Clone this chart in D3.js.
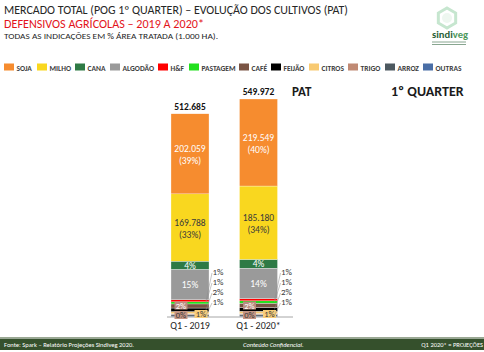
<!DOCTYPE html>
<html>
<head>
<meta charset="utf-8">
<script src="https://cdn.jsdelivr.net/npm/d3@7"></script>
<style>
  body { margin: 0; background: #fff; }
  svg { display: block; font-family: Carlito, "Liberation Sans Narrow", "Open Sans", sans-serif; }
</style>
</head>
<body>
<div id="chart"></div>
<script>
const crops = ["SOJA", "MILHO", "CANA", "ALGODÃO", "H&F", "PASTAGEM", "CAFÉ", "FEIJÃO", "CITROS", "TRIGO", "ARROZ", "OUTRAS"];
const cropColors = ["#f68c2f", "#f9d71f", "#2e7a45", "#9a9a9a", "#ff0000", "#22e01e", "#7a5444", "#000000", "#f8ca72", "#c08a74", "#4d5960", "#4a6ea6"];
const periods = ["Q1 - 2019", "Q1 - 2020*"];
const area2019 = [202059, 169788, 20500, 76900, 5200, 5300, 10300, 8900, 5100, 2000, 4200, 2438];
const area2020 = [219549, 185180, 22000, 77000, 5500, 5800, 11000, 9500, 5600, 2100, 4300, 2443];
const totals = [512685, 549972];

const width = 484, height = 352;
const fmt = v => d3.format(",")(v).replace(/,/g, ".");

const data = periods.map((p, i) => {
  const row = { period: p };
  const vals = i === 0 ? area2019 : area2020;
  crops.forEach((c, j) => row[c] = vals[j]);
  return row;
});

const svg = d3.select("#chart").append("svg")
  .attr("width", width).attr("height", height);

// titulo
svg.append("text").attr("x", 4).attr("y", 14)
  .attr("font-size", 12).attr("fill", "#262626")
  .attr("textLength", 344).attr("lengthAdjust", "spacingAndGlyphs")
  .text("MERCADO TOTAL (POG 1º QUARTER) – EVOLUÇÃO DOS CULTIVOS (PAT)");
svg.append("text").attr("x", 4).attr("y", 27.5)
  .attr("font-size", 12).attr("fill", "#e3141b")
  .attr("textLength", 200).attr("lengthAdjust", "spacingAndGlyphs")
  .text("DEFENSIVOS AGRÍCOLAS  – 2019 A 2020*");
svg.append("text").attr("x", 4).attr("y", 39)
  .attr("font-size", 8).attr("fill", "#262626")
  .attr("textLength", 214).attr("lengthAdjust", "spacingAndGlyphs")
  .text("TODAS AS INDICAÇÕES EM % ÁREA TRATADA (1.000 HA).");

// logo
const hex = d3.range(6).map(k => {
  const a = Math.PI / 3 * k - Math.PI / 2;
  return [447 + 10 * Math.cos(a), 18 + 10 * Math.sin(a)];
});
svg.append("polygon").attr("points", hex.join(" "))
  .attr("fill", "none").attr("stroke", "#c6e6cf").attr("stroke-width", 3);
svg.append("circle").attr("cx", 447).attr("cy", 18).attr("r", 5)
  .attr("fill", "#eef7f0");
const logo = svg.append("text").attr("x", 432).attr("y", 38)
  .attr("font-size", 10).attr("font-weight", "bold")
  .attr("textLength", 36).attr("lengthAdjust", "spacingAndGlyphs");
logo.append("tspan").attr("fill", "#2b5f38").text("sindi");
logo.append("tspan").attr("fill", "#4f9a5d").text("veg");
[42, 44.5].forEach(y => svg.append("line")
  .attr("x1", 432).attr("x2", 466).attr("y1", y).attr("y2", y)
  .attr("stroke", "#6a8f73").attr("stroke-width", 0.8));

// legenda
const legX = [4, 37, 75, 110, 158, 189, 239, 271, 309, 348, 385, 423];
const legend = svg.append("g");
crops.forEach((c, i) => {
  legend.append("rect").attr("x", legX[i]).attr("y", 63.5)
    .attr("width", 10).attr("height", 7).attr("fill", cropColors[i]);
  legend.append("text").attr("x", legX[i] + 12.5).attr("y", 70.5)
    .attr("font-size", 7.5).attr("font-weight", "bold").attr("fill", "#404040")
    .text(c);
});

// escalas
const y = d3.scaleLinear().domain([0, 549972]).range([317, 99]);
const x = d3.scaleBand().domain(periods).range([155.75, 292.75])
  .paddingInner(0.445).paddingOuter(0.2225);

const stackKeys = crops.slice().reverse();
const series = d3.stack().keys(stackKeys)(data);
const colorOf = d3.scaleOrdinal().domain(crops).range(cropColors);

const bars = svg.append("g");
series.forEach(s => {
  bars.selectAll(null).data(s).enter().append("rect")
    .attr("x", d => x(d.data.period))
    .attr("width", x.bandwidth())
    .attr("y", d => y(d[1]))
    .attr("height", d => y(d[0]) - y(d[1]))
    .attr("fill", colorOf(s.key))
    .attr("stroke", "#fff").attr("stroke-width", 0.3);
});

// eixo
svg.append("line").attr("x1", 167).attr("x2", 293).attr("y1", 317).attr("y2", 317)
  .attr("stroke", "#a6a6a6").attr("stroke-width", 1);
const xAxis = svg.append("g").attr("transform", "translate(0,317)")
  .call(d3.axisBottom(x).tickSize(0).tickPadding(5));
xAxis.select(".domain").remove();
xAxis.selectAll("text").attr("font-size", 10).attr("fill", "#262626")
  .attr("font-family", "Carlito, 'Liberation Sans Narrow', 'Open Sans', sans-serif");

// totais
periods.forEach((p, i) => {
  svg.append("text").attr("x", x(p) + x.bandwidth() / 2).attr("y", y(totals[i]) - 4)
    .attr("text-anchor", "middle").attr("font-size", 9.5).attr("font-weight", "bold")
    .attr("fill", "#111").text(fmt(totals[i]));
});

// rótulos dentro
const segOf = (key, i) => series.find(s => s.key === key)[i];
const pct = (key, i) => Math.round(data[i][key] / totals[i] * 100) + "%";
periods.forEach((p, i) => {
  const cx = x(p) + x.bandwidth() / 2;
  const x0 = x(p), x1 = x(p) + x.bandwidth();
  ["SOJA", "MILHO"].forEach(k => {
    const s = segOf(k, i);
    const my = (y(s[0]) + y(s[1])) / 2;
    const col = k === "SOJA" ? "#fff" : "#3a3a3a";
    svg.append("text").attr("x", cx).attr("y", my - 2).attr("text-anchor", "middle")
      .attr("font-size", 9.5).attr("fill", col).text(fmt(data[i][k]));
    svg.append("text").attr("x", cx).attr("y", my + 10).attr("text-anchor", "middle")
      .attr("font-size", 9.5).attr("fill", col).text("(" + pct(k, i) + ")");
  });
  ["CANA", "ALGODÃO"].forEach(k => {
    const s = segOf(k, i);
    svg.append("text").attr("x", cx).attr("y", (y(s[0]) + y(s[1])) / 2 + 3.5)
      .attr("text-anchor", "middle").attr("font-size", 9.5).attr("fill", "#fff")
      .text(pct(k, i));
  });

  // rótulos com caixa
  const boxes = [
    { key: "CAFÉ", bx: x0 + 3.5, by: 301.5, fill: "#b98d80", txt: "#fff" },
    { key: "TRIGO", bx: x0 + 3.5, by: 311, fill: "#c49584", txt: "#3a3a3a" },
    { key: "CITROS", bx: x0 + 23.5, by: 310, fill: "#f8cd7a", txt: "#3a3a3a" }
  ];
  boxes.forEach(b => {
    svg.append("rect").attr("x", b.bx).attr("y", b.by).attr("width", 13).attr("height", 8)
      .attr("fill", b.fill);
    svg.append("text").attr("x", b.bx + 6.5).attr("y", b.by + 7).attr("text-anchor", "middle")
      .attr("font-size", 8.5).attr("fill", b.txt).text(pct(b.key, i));
  });

  // rótulos externos com linhas guia
  const outer = ["H&F", "PASTAGEM", "FEIJÃO", "ARROZ"];
  const ly = [272, 282, 292, 302];
  outer.forEach((k, j) => {
    const s = segOf(k, i);
    svg.append("line")
      .attr("x1", x1 + 3).attr("y1", ly[j] + 1)
      .attr("x2", x1 - 3).attr("y2", (y(s[0]) + y(s[1])) / 2)
      .attr("stroke", "#8c8c8c").attr("stroke-width", 0.5);
    svg.append("text").attr("x", x1 + 3.5).attr("y", ly[j] + 3)
      .attr("font-size", 9).attr("fill", "#3a3a3a").text(pct(k, i));
  });
});

svg.append("text").attr("x", 292).attr("y", 96).attr("font-size", 13)
  .attr("font-weight", "bold").attr("fill", "#1a1a1a").text("PAT");
svg.append("text").attr("x", 391).attr("y", 96).attr("font-size", 14)
  .attr("font-weight", "bold").attr("fill", "#1a1a1a").text("1º QUARTER");

// rodapé
svg.append("rect").attr("x", 0).attr("y", 337).attr("width", width).attr("height", 1)
  .attr("fill", "#9aa893");
svg.append("rect").attr("x", 0).attr("y", 338.5).attr("width", width).attr("height", 11.5)
  .attr("fill", "#35502c");
svg.append("text").attr("x", 4).attr("y", 346.5).attr("font-size", 6.5).attr("fill", "#fff")
  .text("Fonte: Spark – Relatório Projeções Sindiveg 2020.");
svg.append("text").attr("x", 243).attr("y", 346.5).attr("font-size", 6.5).attr("fill", "#fff")
  .attr("font-style", "italic").text("Conteúdo Confidencial.");
svg.append("text").attr("x", 483).attr("y", 346.5).attr("font-size", 6.5).attr("fill", "#fff")
  .attr("text-anchor", "end").text("Q1 2020* = PROJEÇÕES");
</script>
</body>
</html>
